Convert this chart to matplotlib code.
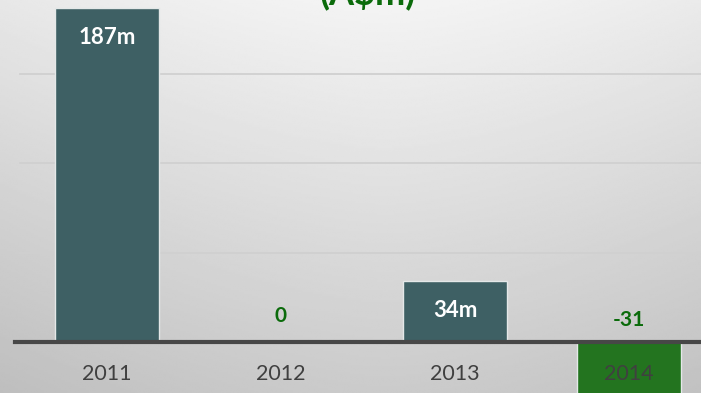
import numpy as np
import matplotlib.pyplot as plt

# values in millions, one bar per year
years = ['2011', '2012', '2013', '2014']
values = [187, 0, 34, -31]
labels = ['187m', '0', '34m', '-31']
gridlines = [50, 100, 150]

BAR = '#3e6064'
NEG = '#23741f'
GREEN = '#0b6b0b'

plt.rcParams['font.family'] = ['Lato', 'DejaVu Sans']

fig = plt.figure(figsize=(7.01, 3.93), dpi=100)

# soft grey backdrop, lighter towards the top middle
bg = fig.add_axes([0, 0, 1, 1], zorder=0)
yy, xx = np.mgrid[0:1:200j, 0:1:360j]
shade = 0.955 - 0.16 * yy - 0.06 * np.abs(xx - 0.55) ** 1.5 * 2
bg.imshow(shade, cmap='gray', vmin=0, vmax=1, aspect='auto',
          extent=[0, 1, 0, 1], origin='upper', interpolation='bilinear')
bg.axis('off')

ax = fig.add_axes([0, 0, 1, 1], zorder=1)
ax.patch.set_alpha(0)
x = np.arange(len(years))
ax.set_xlim(-0.615, 3.414)
ax.set_ylim(-28.6, 191.5)

for g in gridlines:
    ax.axhline(g, xmin=20 / 701, color='#d0d0d0', lw=1.3, zorder=1)

colors = [NEG if v < 0 else BAR for v in values]
ax.bar(x, values, width=0.6, color=colors, edgecolor='#e4e8e8',
       linewidth=1.0, zorder=2)
ax.axhline(0, xmin=15 / 701, color='#474747', lw=3, zorder=3)

for xi, v, lab in zip(x, values, labels):
    if v > 0:
        ax.annotate(lab, (xi, v), xytext=(0, -21), textcoords='offset points',
                    ha='center', va='center', color='white',
                    fontsize=16, fontweight='bold', zorder=4)
    else:
        off = 19 if v == 0 else 16
        ax.annotate(lab, (xi, 0), xytext=(0, off), textcoords='offset points',
                    ha='center', va='center', color=GREEN,
                    fontsize=15, fontweight='bold', zorder=4)

for xi, yr in zip(x, years):
    ax.annotate(yr, (xi, 0), xytext=(0, -23), textcoords='offset points',
                ha='center', va='center', color='#404040', fontsize=15.5,
                zorder=4)

ax.axis('off')

# title sits mostly above the top edge, only its lower part shows
fig.text(0.524, 1 - 4 / 393, '(A$m)', ha='center', va='baseline',
         color=GREEN, fontsize=26, fontweight='bold')

fig.savefig('out.png', dpi=100)
